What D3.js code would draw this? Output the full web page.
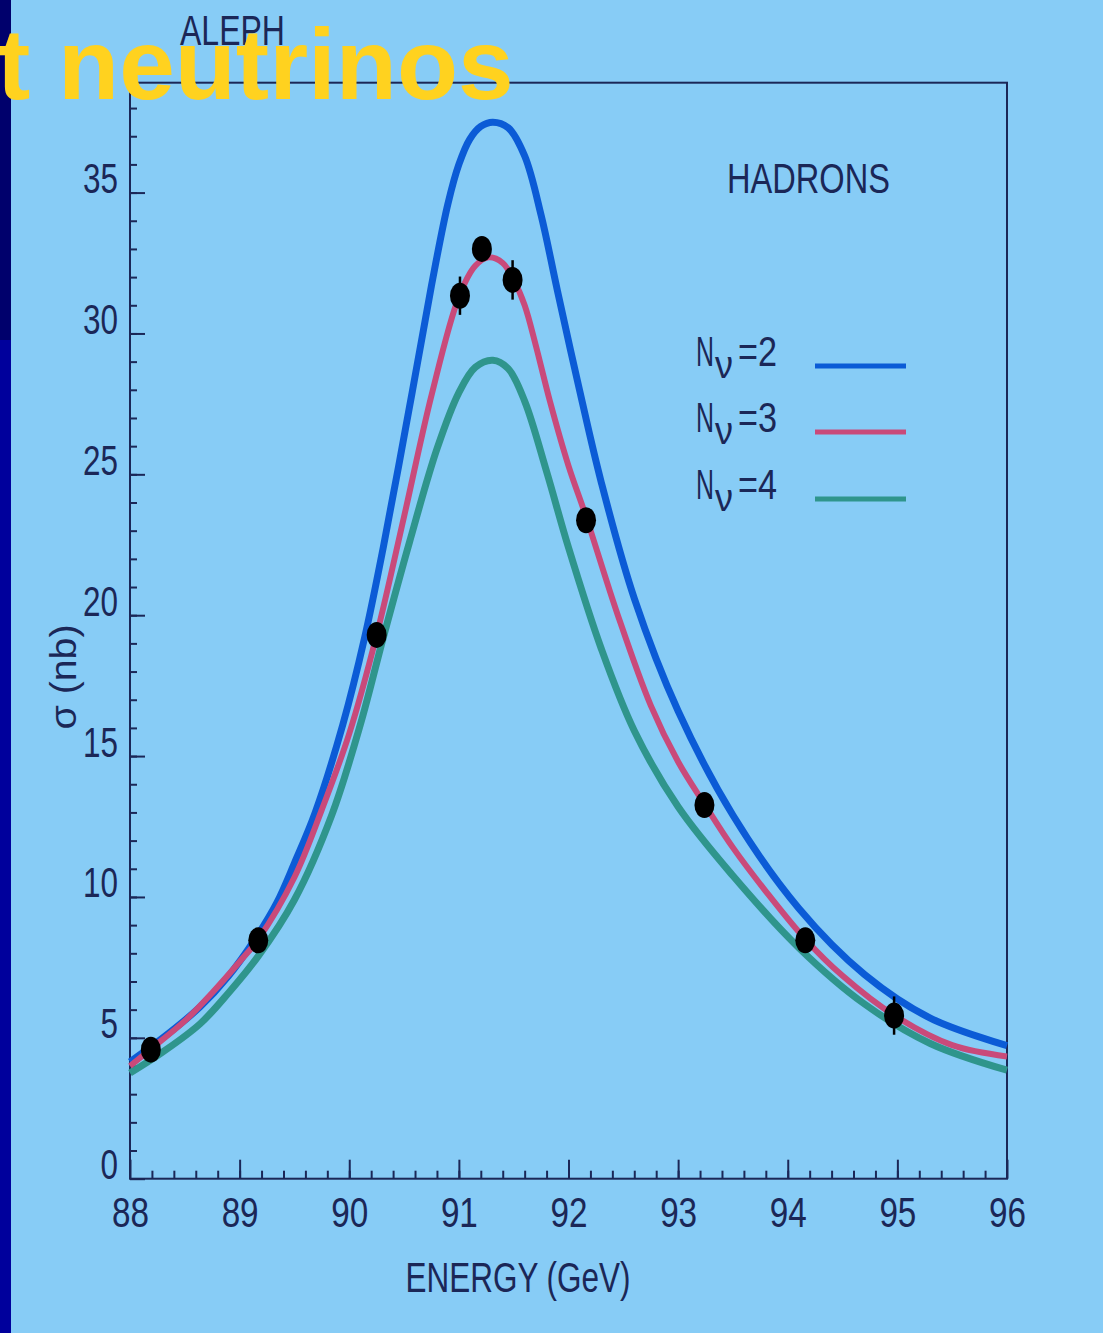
<!DOCTYPE html>
<html>
<head>
<meta charset="utf-8">
<script src="https://cdn.jsdelivr.net/npm/d3@7"></script>
<style>
  html, body { margin: 0; padding: 0; background: #87ccf6; overflow: hidden; }
  svg { display: block; }
  .lbl { font-family: "Liberation Sans", Arial, sans-serif; fill: #1b2757; }
</style>
</head>
<body>
<div id="chart"></div>
<script>
// measured cross sections (nb) vs energy (GeV)
var dataE   = [88.19, 89.17, 90.25, 91.01, 91.21, 91.49, 92.16, 93.24, 94.16, 94.97];
var dataSig = [4.58, 8.46, 19.3, 31.34, 33.0, 31.9, 23.37, 13.26, 8.46, 5.79];
var dataErr = [0.3, 0.35, 0.4, 0.68, 0.4, 0.7, 0.4, 0.4, 0.4, 0.68];

// theory curves
var n2E   = [88.0, 88.3, 88.64, 88.9, 89.14, 89.34, 89.5, 89.69, 89.94, 90.14, 90.31, 90.55, 90.75, 90.9, 91.0, 91.1, 91.2, 91.31,
             91.45, 91.6, 91.75, 91.9, 92.1, 92.3, 92.6, 93.0, 93.5, 94.1, 94.7, 95.3, 96.0];
var n2Sig = [4.15, 5.0, 6.1, 7.2, 8.5, 9.8, 11.2, 13.0, 16.1, 19.2, 22.4, 27.4, 31.7, 34.6, 36.0, 36.9, 37.35, 37.5,
             37.3, 36.3, 34.2, 31.5, 28.0, 24.7, 20.6, 16.6, 12.9, 9.6, 7.25, 5.7, 4.72];

var n3E   = [88.0, 88.19, 88.5, 88.75, 89.0, 89.17, 89.5, 89.75, 90.0, 90.25, 90.5, 90.75, 91.0, 91.15, 91.27,
             91.4, 91.5, 91.6, 91.7, 91.83, 92.0, 92.16, 92.45, 92.75, 93.0, 93.24, 93.5, 93.8, 94.16, 94.5, 94.97, 95.5, 96.0];
var n3Sig = [4.0, 4.6, 5.6, 6.6, 7.7, 8.5, 10.7, 13.1, 15.8, 19.3, 23.5, 27.8, 31.3, 32.4, 32.7,
             32.5, 31.9, 31.0, 29.6, 27.6, 25.3, 23.5, 20.0, 16.8, 14.8, 13.3, 11.75, 10.2, 8.5, 7.2, 5.8, 4.74, 4.34];

var n4E   = [88.0, 88.3, 88.64, 88.9, 89.17, 89.5, 89.84, 90.1, 90.31, 90.55, 90.8, 91.0, 91.15, 91.31,
             91.45, 91.6, 91.8, 92.0, 92.3, 92.6, 93.0, 93.5, 94.1, 94.7, 95.3, 96.0];
var n4Sig = [3.75, 4.5, 5.5, 6.6, 7.9, 9.9, 12.9, 16.1, 19.2, 22.6, 25.9, 27.9, 28.8, 29.05,
             28.75, 27.6, 25.1, 22.4, 18.8, 15.9, 13.2, 10.75, 8.2, 6.2, 4.8, 3.85];

var seriesNames  = ["2", "3", "4"];
var seriesColors = ["#0b5bd6", "#c94a7a", "#2f958c"];

var W = 1103, H = 1333;
var svg = d3.select("#chart").append("svg").attr("width", W).attr("height", H);

svg.append("rect").attr("width", W).attr("height", H).attr("fill", "#87ccf6");
// dark strip on the left edge
svg.append("rect").attr("x", 0).attr("y", 0).attr("width", 11).attr("height", 340).attr("fill", "#00006c");
svg.append("rect").attr("x", 0).attr("y", 340).attr("width", 11).attr("height", H - 340).attr("fill", "#00009c");

var x = d3.scaleLinear().domain([88, 96]).range([130, 1007]);
var y = d3.scaleLinear().domain([0, 38.9]).range([1178.7, 82.7]);
var ink = "#1b2757";

// squeeze a text to a measured width (the original face is condensed)
function squeeze(sel, w) {
  sel.attr("textLength", w).attr("lengthAdjust", "spacingAndGlyphs");
}

// frame
svg.append("rect")
  .attr("x", x(88)).attr("y", y(38.9))
  .attr("width", x(96) - x(88)).attr("height", y(0) - y(38.9))
  .attr("fill", "none").attr("stroke", ink).attr("stroke-width", 2);

// y axis: minor then major ticks (pointing inward)
svg.append("g").attr("transform", "translate(" + x(88) + ",0)")
  .call(d3.axisLeft(y).tickValues(d3.range(1, 39)).tickSize(-7).tickFormat(""))
  .call(function(g) { g.select(".domain").remove(); g.selectAll("line").attr("stroke", ink).attr("stroke-width", 2); });

var yax = svg.append("g").attr("transform", "translate(" + x(88) + ",0)")
  .call(d3.axisLeft(y).tickValues(d3.range(0, 36, 5)).tickSizeInner(-15).tickSizeOuter(0).tickPadding(12));
yax.select(".domain").remove();
yax.selectAll("line").attr("stroke", ink).attr("stroke-width", 2);
yax.selectAll("text").attr("class", "lbl").attr("dy", "0")
  .style("font-size", "43px").attr("fill", ink).attr("font-family", null)
  .attr("textLength", function(d) { return String(d).length * 17.5; })
  .attr("lengthAdjust", "spacingAndGlyphs");

// x axis
svg.append("g").attr("transform", "translate(0," + y(0) + ")")
  .call(d3.axisBottom(x).tickValues(d3.range(88.2, 96, 0.2)).tickSize(-8).tickFormat(""))
  .call(function(g) { g.select(".domain").remove(); g.selectAll("line").attr("stroke", ink).attr("stroke-width", 2); });

var xax = svg.append("g").attr("transform", "translate(0," + y(0) + ")")
  .call(d3.axisBottom(x).tickValues(d3.range(88, 97, 1)).tickSizeInner(-19).tickSizeOuter(0).tickPadding(18));
xax.select(".domain").remove();
xax.selectAll("line").attr("stroke", ink).attr("stroke-width", 2);
xax.selectAll("text").attr("class", "lbl").style("font-size", "43px").attr("fill", ink).attr("font-family", null)
  .attr("textLength", function(d) { return String(d).length * 18.5; })
  .attr("lengthAdjust", "spacingAndGlyphs");

// axis titles
svg.append("text").attr("class", "lbl")
  .attr("x", 518).attr("y", 1292).attr("text-anchor", "middle")
  .style("font-size", "42px").text("ENERGY (GeV)")
  .call(squeeze, 225);

svg.append("text").attr("class", "lbl")
  .attr("transform", "translate(76,677) rotate(-90)")
  .attr("text-anchor", "middle")
  .style("font-size", "36px").text("σ (nb)")
  .call(squeeze, 105);

svg.append("text").attr("class", "lbl")
  .attr("x", 727).attr("y", 193).style("font-size", "43px").text("HADRONS")
  .call(squeeze, 163);

// curves
var line = d3.line()
  .x(function(d) { return x(d[0]); })
  .y(function(d) { return y(d[1]); })
  .curve(d3.curveCatmullRom.alpha(0.5));

var curves = [d3.zip(n2E, n2Sig), d3.zip(n3E, n3Sig), d3.zip(n4E, n4Sig)];
var widths = [7, 6, 7];
// green first, then blue, then red on top
[2, 0, 1].forEach(function(i) {
  svg.append("path").datum(curves[i])
    .attr("d", line)
    .attr("fill", "none")
    .attr("stroke", seriesColors[i])
    .attr("stroke-width", widths[i]);
});

// data points
var pts = svg.append("g");
dataE.forEach(function(e, i) {
  pts.append("line")
    .attr("x1", x(e)).attr("x2", x(e))
    .attr("y1", y(dataSig[i] - dataErr[i])).attr("y2", y(dataSig[i] + dataErr[i]))
    .attr("stroke", "#000").attr("stroke-width", 2.5);
  pts.append("ellipse")
    .attr("cx", x(e)).attr("cy", y(dataSig[i]))
    .attr("rx", 10).attr("ry", 13).attr("fill", "#000");
});

// legend
var legY = [366, 432, 499];
seriesNames.forEach(function(n, i) {
  svg.append("text").attr("class", "lbl")
    .attr("x", 696).attr("y", legY[i]).style("font-size", "43px").text("N")
    .call(squeeze, 18);
  svg.append("text").attr("class", "lbl")
    .attr("x", 715).attr("y", legY[i] + 12).style("font-size", "38px").text("ν")
    .call(squeeze, 18);
  svg.append("text").attr("class", "lbl")
    .attr("x", 738).attr("y", legY[i]).style("font-size", "43px").text("=" + n)
    .call(squeeze, 39);
  svg.append("line")
    .attr("x1", 815).attr("x2", 906)
    .attr("y1", legY[i]).attr("y2", legY[i])
    .attr("stroke", seriesColors[i]).attr("stroke-width", 5);
});

// header texts
svg.append("text").attr("class", "lbl")
  .attr("x", 180).attr("y", 45).style("font-size", "43px").text("ALEPH")
  .call(squeeze, 105);

svg.append("text")
  .attr("x", -3).attr("y", 99)
  .attr("font-family", "'Liberation Sans', Arial, sans-serif")
  .attr("font-weight", "bold")
  .attr("font-size", 100)
  .attr("fill", "#ffd21f")
  .text("t neutrinos");
</script>
</body>
</html>
